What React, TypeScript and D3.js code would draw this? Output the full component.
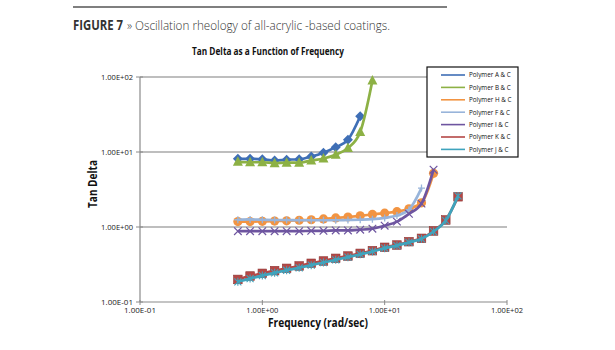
import React from 'react';
import * as d3 from 'd3';

const width = 615;
const height = 350;
const plot = { left: 140, right: 507, top: 77, bottom: 302 };

// frequency steps (rad/sec), 0.1 decade apart
const freq = [0.631, 0.794, 1.0, 1.26, 1.58, 2.0, 2.51, 3.16, 3.98, 5.01, 6.31, 7.94, 10.0, 12.6, 15.8, 20.0, 25.1, 31.6, 39.8];

const polyA = [8.1, 8.1, 8.0, 7.7, 7.9, 8.0, 8.7, 9.8, 11.6, 14.6, 30];
const polyB = [7.4, 7.3, 7.3, 7.1, 7.2, 7.2, 7.7, 8.2, 9.2, 11.3, 18.5, 90];
const polyH = [1.18, 1.18, 1.19, 1.2, 1.21, 1.23, 1.25, 1.28, 1.32, 1.36, 1.41, 1.47, 1.53, 1.6, 1.75, 2.1, 5.2];
const polyF = [1.25, 1.26, 1.25, 1.24, 1.24, 1.23, 1.23, 1.23, 1.23, 1.24, 1.25, 1.27, 1.32, 1.42, 1.7, 3.3];
const polyI = [0.88, 0.88, 0.88, 0.88, 0.88, 0.88, 0.89, 0.89, 0.9, 0.9, 0.92, 0.95, 1.04, 1.18, 1.5, 2.05, 5.8];
const polyK = [0.2, 0.222, 0.241, 0.262, 0.281, 0.302, 0.328, 0.352, 0.382, 0.41, 0.445, 0.483, 0.536, 0.575, 0.637, 0.706, 0.885, 1.24, 2.53];
const polyJ = [0.186, 0.205, 0.225, 0.245, 0.265, 0.286, 0.31, 0.336, 0.365, 0.396, 0.432, 0.472, 0.522, 0.565, 0.625, 0.695, 0.87, 1.22, 2.6];

const yTicks = [0.1, 1, 10, 100];
const xTicks = [0.1, 1, 10, 100];

const series = [
	{ name: 'Polymer A & C', values: polyA, color: '#3f6fb6', marker: 'diamond' },
	{ name: 'Polymer B & C', values: polyB, color: '#8db145', marker: 'triangle' },
	{ name: 'Polymer H & C', values: polyH, color: '#f29442', marker: 'circle' },
	{ name: 'Polymer F & C', values: polyF, color: '#98b4da', marker: 'plus' },
	{ name: 'Polymer I & C', values: polyI, color: '#6e55a0', marker: 'x' },
	{ name: 'Polymer K & C', values: polyK, color: '#b54846', marker: 'square' },
	{ name: 'Polymer J & C', values: polyJ, color: '#3fa4bd', marker: 'star' }
];

const fmtExp = (v: number) => {
	const e = Math.round(Math.log10(v));
	const sign = e < 0 ? '-' : '+';
	return '1.00E' + sign + String(Math.abs(e)).padStart(2, '0');
};

const Marker = ({ kind, x, y, color }: { kind: string; x: number; y: number; color: string }) => {
	if (kind === 'diamond') {
		return <path d={`M${x},${y - 5}L${x + 5},${y}L${x},${y + 5}L${x - 5},${y}Z`} fill={color} />;
	}
	if (kind === 'triangle') {
		return <path d={`M${x},${y - 5.5}L${x + 5},${y + 4}L${x - 5},${y + 4}Z`} fill={color} />;
	}
	if (kind === 'circle') {
		return <circle cx={x} cy={y} r={4.6} fill={color} />;
	}
	if (kind === 'square') {
		return <rect x={x - 4.3} y={y - 4.3} width={8.6} height={8.6} fill={color} stroke="#8e3634" strokeWidth={0.6} />;
	}
	if (kind === 'plus') {
		return <path d={`M${x - 3.5},${y}H${x + 3.5}M${x},${y - 3.5}V${y + 3.5}`} stroke={color} strokeWidth={1.3} />;
	}
	if (kind === 'x') {
		return <path d={`M${x - 3.8},${y - 3.8}L${x + 3.8},${y + 3.8}M${x + 3.8},${y - 3.8}L${x - 3.8},${y + 3.8}`} stroke={color} strokeWidth={1.2} />;
	}
	return (
		<path
			d={`M${x - 3.5},${y - 3.5}L${x + 3.5},${y + 3.5}M${x + 3.5},${y - 3.5}L${x - 3.5},${y + 3.5}M${x},${y - 4}V${y + 4}`}
			stroke={color}
			strokeWidth={1.1}
		/>
	);
};

export default function App() {
	const xScale = d3.scaleLog().domain([0.1, 100]).range([plot.left, plot.right]);
	const yScale = d3.scaleLog().domain([0.1, 100]).range([plot.bottom, plot.top]);

	const line = d3
		.line<number>()
		.x((_, i) => xScale(freq[i]))
		.y(d => yScale(d))
		.curve(d3.curveMonotoneX);

	const font = "'Open Sans', sans-serif";

	return (
		<svg width={width} height={height} style={{ position: 'absolute', left: 0, top: 0 }}>
			<rect width={width} height={height} fill="#fff" />
			<line x1={73} x2={447} y1={7} y2={7} stroke="#555" strokeWidth={1.5} />
			<text x={73} y={30} fontFamily={font} fontSize={13.5} fontWeight="bold" fill="#333" textLength={50} lengthAdjust="spacingAndGlyphs">
				FIGURE 7
			</text>
			<text x={127} y={30} fontFamily={font} fontSize={13.5} fontWeight={300} fill="#333" textLength={263} lengthAdjust="spacingAndGlyphs">
				» Oscillation rheology of all-acrylic -based coatings.
			</text>
			<text x={268} y={55} textAnchor="middle" fontFamily={font} fontWeight="bold" fontSize={10.5} fill="#111" textLength={152} lengthAdjust="spacingAndGlyphs">
				Tan Delta as a Function of Frequency
			</text>

			{yTicks.map(t => (
				<g key={'y' + t}>
					{t > 0.1 && <line x1={plot.left} x2={plot.right} y1={yScale(t)} y2={yScale(t)} stroke="#a8a8a8" strokeWidth={1.3} />}
					<line x1={plot.left - 4} x2={plot.left + 3} y1={yScale(t)} y2={yScale(t)} stroke="#8a8a8a" />
					<text x={plot.left - 7} y={yScale(t) + 3} textAnchor="end" fontFamily={font} fontSize={8} fill="#222" textLength={32} lengthAdjust="spacingAndGlyphs">
						{fmtExp(t)}
					</text>
				</g>
			))}
			{xTicks.map(t => (
				<g key={'x' + t}>
					<line x1={xScale(t)} x2={xScale(t)} y1={plot.bottom - 2} y2={plot.bottom + 3} stroke="#8a8a8a" />
					<text x={xScale(t)} y={plot.bottom + 11} textAnchor="middle" fontFamily={font} fontSize={8} fill="#222" textLength={32} lengthAdjust="spacingAndGlyphs">
						{fmtExp(t)}
					</text>
				</g>
			))}
			<line x1={plot.left} x2={plot.left} y1={plot.top} y2={plot.bottom} stroke="#8a8a8a" strokeWidth={1.2} />
			<line x1={plot.left} x2={plot.right} y1={plot.bottom} y2={plot.bottom} stroke="#8a8a8a" strokeWidth={1.2} />

			<text x={318} y={327} textAnchor="middle" fontFamily={font} fontWeight="bold" fontSize={11.5} fill="#111" textLength={100} lengthAdjust="spacingAndGlyphs">
				Frequency (rad/sec)
			</text>
			<text transform="translate(97,184) rotate(-90)" textAnchor="middle" fontFamily={font} fontWeight="bold" fontSize={11.5} fill="#111" textLength={48} lengthAdjust="spacingAndGlyphs">
				Tan Delta
			</text>

			{series.map(s => (
				<g key={s.name}>
					{s.values.map((v, i) => (
						<Marker key={i} kind={s.marker} x={xScale(freq[i])} y={yScale(v)} color={s.color} />
					))}
					<path d={line(s.values) || ''} fill="none" stroke={s.color} strokeWidth={2.7} />
				</g>
			))}

			<g>
				<rect x={427} y={67} width={91} height={90} fill="#fff" stroke="#111" strokeWidth={1.2} />
				{series.map((s, i) => (
					<g key={s.name} transform={`translate(0,${75 + i * 12.4})`}>
						<line x1={441} x2={465} y1={0} y2={0} stroke={s.color} strokeWidth={1.6} />
						<text x={469} y={2.3} fontFamily={font} fontSize={6.3} fill="#111">
							{s.name}
						</text>
					</g>
				))}
			</g>
		</svg>
	);
}
